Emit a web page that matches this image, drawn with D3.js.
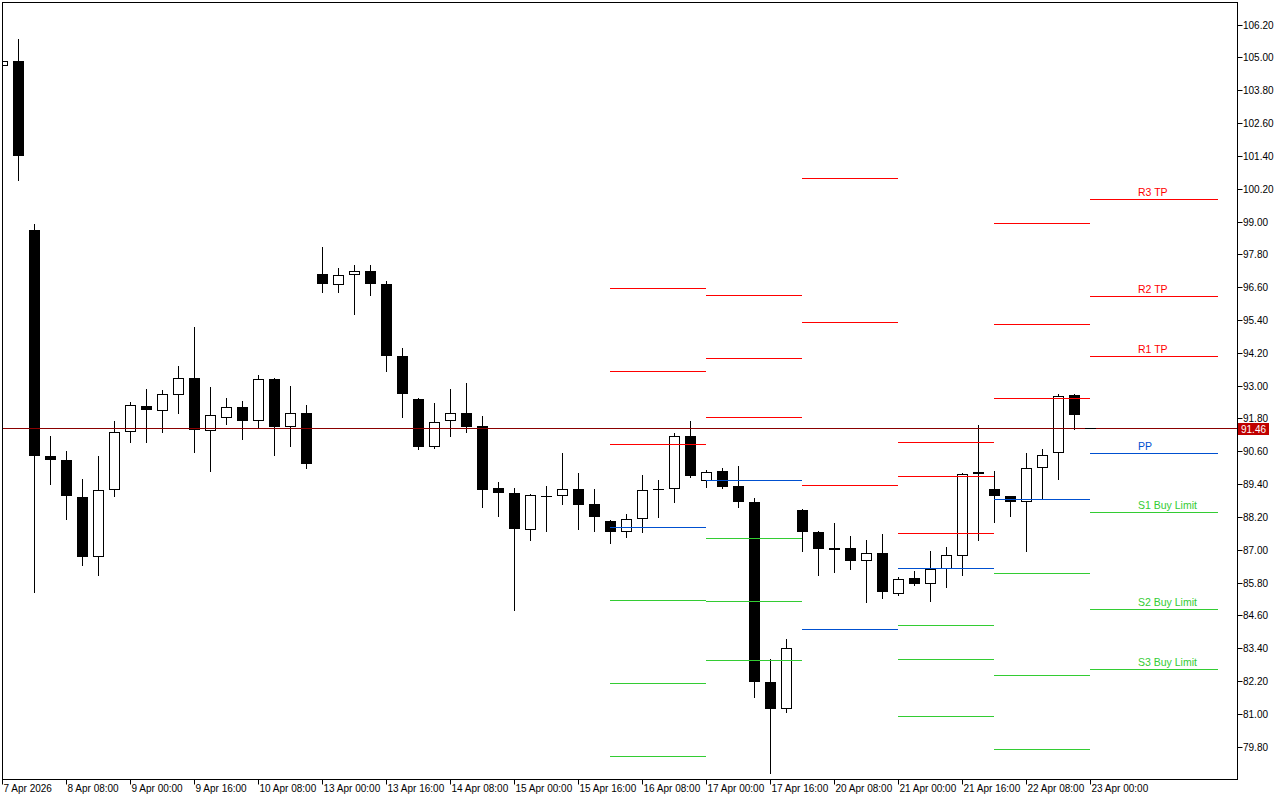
<!DOCTYPE html>
<html>
<head>
<meta charset="utf-8">
<script src="https://cdn.jsdelivr.net/npm/d3@7"></script>
<style>
  html, body { margin: 0; padding: 0; background: #fff; }
  svg { display: block; }
  text { font-family: "Liberation Sans", Arial, sans-serif; }
</style>
</head>
<body>
<svg id="chart" width="1280" height="800"></svg>
<script>
// ---------- DATA (H4 bars, index 0 = 7 Apr 2026 16:00) ----------
const opens = [104.70,104.88,98.70,90.44,90.29,88.94,86.73,89.17,91.30,92.25,
  92.07,92.66,93.28,91.34,91.81,92.23,91.71,93.25,91.50,92.01,
  97.09,96.68,97.04,97.19,96.73,94.09,92.52,90.74,91.69,92.01,
  91.53,89.25,89.08,87.72,88.97,88.95,89.22,88.68,88.06,87.63,
  88.12,89.23,89.22,91.17,89.51,89.88,89.32,88.74,82.16,81.16,
  88.46,87.66,86.99,87.07,86.58,86.89,85.38,85.97,85.74,86.29,
  86.77,89.77,89.22,88.97,88.76,89.99,90.53,92.64,91.46];
const highs = [104.95,105.69,98.92,91.17,90.62,89.59,90.44,91.72,92.41,92.89,
  92.84,93.73,95.15,92.96,92.56,92.45,93.40,93.27,93.00,92.30,
  98.08,97.31,97.42,97.42,96.84,94.39,92.56,92.37,92.89,93.11,
  91.90,89.48,89.27,89.02,89.34,90.55,89.81,89.23,88.08,88.31,
  89.74,89.56,91.28,91.72,89.92,90.00,90.07,88.89,83.00,83.74,
  88.48,87.70,87.99,87.51,87.36,87.58,86.01,86.23,86.96,87.11,
  89.80,91.57,89.89,88.97,90.55,90.69,92.69,92.69,91.46];
const lows = [104.62,100.53,85.47,89.39,88.12,86.45,86.06,88.95,90.92,90.92,
  91.29,91.98,90.56,89.86,91.58,91.03,91.50,90.48,90.78,89.97,
  96.41,96.41,95.60,96.30,93.52,91.87,90.67,90.72,91.14,91.29,
  88.55,88.25,84.81,87.34,87.67,88.68,87.77,87.70,87.26,87.48,
  87.63,88.18,88.73,89.66,89.28,89.24,88.55,81.63,78.82,81.08,
  86.94,86.06,86.20,86.28,85.07,85.22,85.36,85.72,85.14,85.62,
  86.09,87.34,88.00,88.22,86.97,88.86,89.57,91.42,91.46];
const closes = [104.88,101.38,90.41,90.29,88.95,86.72,89.18,91.30,92.29,92.09,
  92.69,93.28,91.38,91.92,92.22,91.69,93.24,91.49,92.00,90.12,
  96.70,97.04,97.19,96.70,94.07,92.68,90.74,91.67,92.00,91.50,
  89.20,89.06,87.74,89.00,88.91,89.22,88.62,88.18,87.63,88.13,
  89.19,89.17,91.17,89.68,89.84,89.31,88.73,82.18,81.16,83.40,
  87.63,87.01,87.06,86.57,86.88,85.47,85.94,85.73,86.30,86.80,
  89.77,89.84,88.95,88.76,89.99,90.48,92.63,91.91,91.46];

// x-axis labels, one every 4 bars
const xTickIndex = [0,4,8,12,16,20,24,28,32,36,40,44,48,52,56,60,64,68];
const xTickLabels = ["7 Apr 2026","8 Apr 08:00","9 Apr 00:00","9 Apr 16:00","10 Apr 08:00",
  "13 Apr 00:00","13 Apr 16:00","14 Apr 08:00","15 Apr 00:00","15 Apr 16:00","16 Apr 08:00",
  "17 Apr 00:00","17 Apr 16:00","20 Apr 08:00","21 Apr 00:00","21 Apr 16:00","22 Apr 08:00","23 Apr 00:00"];

const yTicks = [79.8,81.0,82.2,83.4,84.6,85.8,87.0,88.2,89.4,90.6,91.8,93.0,94.2,95.4,96.6,97.8,99.0,100.2,101.4,102.6,103.8,105.0,106.2];

const currentPrice = 91.46;

// daily pivot levels (day span in bar index)
const pivotDays  = ["16 Apr","17 Apr","20 Apr","21 Apr","22 Apr","23 Apr"];
const pivotStart = [38,44,50,56,62,68];
const pivotEnd   = [44,50,56,62,68,76];
const R3 = [96.58, 96.31, 100.59, 90.94, 98.95, 99.82];
const R2 = [93.54, 94.01, 95.33, 89.70, 95.25, 96.28];
const R1 = [90.86, 91.85, 89.36, 87.61, 92.55, 94.09];
const PP = [87.83, 89.55, 84.10, 86.33, 88.85, 90.53];
const S1 = [85.16, 87.43, null, 84.24, 86.15, 88.38];
const S2 = [82.12, 85.12, null, 83.00, 82.41, 84.83];
const S3 = [79.45, 82.96, null, 80.91, 79.71, 82.65];
const levelNames = ["R3 TP","R2 TP","R1 TP","PP","S1 Buy Limit","S2 Buy Limit","S3 Buy Limit"];
const levelKinds = ["r","r","r","p","s","s","s"];

// ---------- LAYOUT ----------
const L = 2, T = 2, R = 1237, B = 779;
const colors = { r: "#ff0000", p: "#0050d0", s: "#33cc33" };

const svg = d3.select("#chart");
svg.append("rect").attr("width",1280).attr("height",800).attr("fill","#fff");

const x = d3.scaleLinear().domain([0, 68]).range([2, 1090]);
const y = d3.scaleLinear().domain([79.8, 106.2]).range([746.6, 24.6]);

svg.append("clipPath").attr("id","plotclip")
  .append("rect").attr("x",L).attr("y",T).attr("width",R-L).attr("height",B-T);

const plot = svg.append("g").attr("clip-path","url(#plotclip)");

// ---------- CANDLES ----------
const bars = opens.map((o,i)=>({i, o, h: highs[i], l: lows[i], c: closes[i]}));
const cx = d => Math.round(x(d.i));

const cg = plot.append("g");
cg.selectAll("line.wick").data(bars).join("line")
  .attr("class","wick")
  .attr("x1", d=>cx(d)+0.5).attr("x2", d=>cx(d)+0.5)
  .attr("y1", d=>Math.round(y(d.h))).attr("y2", d=>Math.round(y(d.l))+1)
  .attr("stroke","#000").attr("stroke-width",1);

function bodyTop(d){ return Math.round(y(Math.max(d.o,d.c))); }
function bodyBot(d){ let t=bodyTop(d), b=Math.round(y(Math.min(d.o,d.c))); return Math.max(b, t+1); }

// bearish (and flat) bodies: filled black
cg.selectAll("rect.bear").data(bars.filter(d=>d.c<=d.o)).join("rect")
  .attr("class","bear")
  .attr("x", d=>cx(d)-5).attr("width", 11)
  .attr("y", d=>bodyTop(d)).attr("height", d=>Math.max(1, bodyBot(d)-bodyTop(d)))
  .attr("fill","#000");

// bullish bodies: white with black outline
cg.selectAll("rect.bull").data(bars.filter(d=>d.c>d.o)).join("rect")
  .attr("class","bull")
  .attr("x", d=>cx(d)-4.5).attr("width", 10)
  .attr("y", d=>bodyTop(d)+0.5).attr("height", d=>Math.max(0.5, bodyBot(d)-bodyTop(d)-1))
  .attr("fill","#fff").attr("stroke","#000").attr("stroke-width",1);

// ---------- PIVOT LINES ----------
const levelArrays = [R3,R2,R1,PP,S1,S2,S3];
const segs = [];
levelArrays.forEach((arr, k) => {
  arr.forEach((v, d) => {
    if (v === null) return;
    segs.push({v, k, d, x1: pivotStart[d], x2: pivotEnd[d]});
  });
});
plot.append("g").selectAll("line").data(segs).join("line")
  .attr("x1", s=>Math.round(x(s.x1))).attr("x2", s=>Math.round(x(s.x2)))
  .attr("y1", s=>Math.round(y(s.v))+0.5).attr("y2", s=>Math.round(y(s.v))+0.5)
  .attr("stroke", s=>colors[levelKinds[s.k]]).attr("stroke-width",1);

// labels for the coming day
const last = pivotDays.length - 1;
plot.append("g").selectAll("text").data(levelArrays.map((arr,k)=>({v:arr[last], k})))
  .join("text")
  .attr("x", 1138)
  .attr("y", d=>Math.round(y(d.v))-3)
  .attr("font-size", 10.5)
  .attr("fill", d=>colors[levelKinds[d.k]])
  .text(d=>levelNames[d.k]);

// ---------- CURRENT PRICE LINE ----------
const py = Math.round(y(currentPrice))+0.5;
plot.append("line").attr("x1",L).attr("x2",R).attr("y1",py).attr("y2",py)
  .attr("stroke","#8a0000").attr("stroke-width",1);
// last (just-opened) bar drawn above the line
plot.append("line")
  .attr("x1", Math.round(x(68))-5).attr("x2", Math.round(x(68))+6)
  .attr("y1", py).attr("y2", py).attr("stroke","#000").attr("stroke-width",1);

// ---------- FRAME ----------
svg.append("rect").attr("x",L+0.5).attr("y",T+0.5).attr("width",R-L).attr("height",B-T)
  .attr("fill","none").attr("stroke","#000").attr("stroke-width",1);

// ---------- Y AXIS (right) ----------
const yAxis = d3.axisRight(y).tickValues(yTicks).tickSize(5).tickPadding(1)
  .tickFormat(d3.format(".2f"));
const yg = svg.append("g").attr("transform",`translate(${R+0.5},0)`).call(yAxis);
yg.select(".domain").remove();
yg.selectAll(".tick").attr("transform", d=>`translate(0,${Math.round(y(d))+0.5})`);
yg.selectAll(".tick line").attr("stroke","#000");
yg.selectAll(".tick text").attr("font-size",10).attr("fill","#000")
  .attr("font-family","'Liberation Sans', Arial, sans-serif").attr("x",5.5).attr("dy","0.33em");

// current price tag
const tag = svg.append("g");
tag.append("rect").attr("x",1238).attr("y",Math.round(y(currentPrice))-5)
  .attr("width",31).attr("height",12).attr("fill","#c00000");
tag.append("text").attr("x",1241).attr("y",Math.round(y(currentPrice))+5)
  .attr("font-size",10).attr("fill","#fff").text(currentPrice.toFixed(2));

// ---------- X AXIS (bottom) ----------
const xAxis = d3.axisBottom(x).tickValues(xTickIndex).tickSize(5).tickPadding(2)
  .tickFormat((d,i)=>xTickLabels[i]);
const xg = svg.append("g").attr("transform",`translate(0,${B+0.5})`).call(xAxis);
xg.select(".domain").remove();
xg.selectAll(".tick").attr("transform", d=>`translate(${Math.round(x(d))+0.5},0)`);
xg.selectAll(".tick line").attr("stroke","#000");
xg.selectAll(".tick text").attr("font-size",10).attr("fill","#000")
  .attr("font-family","'Liberation Sans', Arial, sans-serif")
  .attr("text-anchor","start").attr("x",1).attr("y",5).attr("dy","0.71em");
</script>
</body>
</html>
